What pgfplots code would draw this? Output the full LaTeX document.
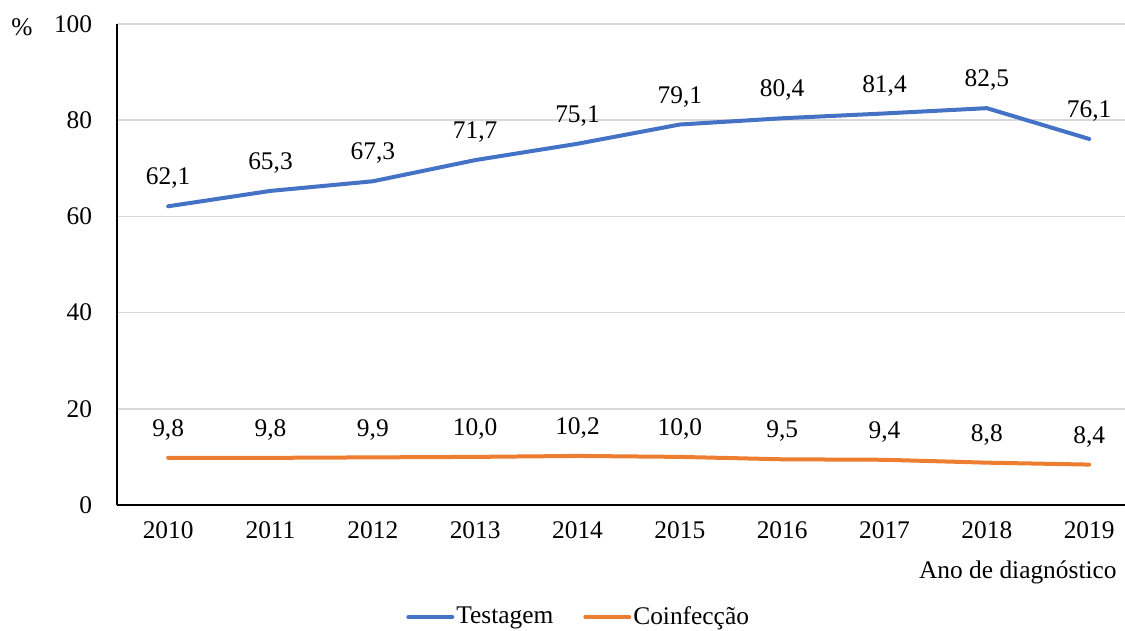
\documentclass[border=0pt]{standalone}
\usepackage{fontspec}
\setmainfont{Liberation Serif}
\usepackage{pgfplots}
\usepackage{pgfplotstable}
\pgfplotsset{compat=1.18}
\definecolor{cblue}{HTML}{4472C4}
\definecolor{corange}{HTML}{ED7D31}
\definecolor{cgrid}{HTML}{D9D9D9}

\pgfplotstableread{
x y lab
0 62.1 62,1
1 65.3 65,3
2 67.3 67,3
3 71.7 71,7
4 75.1 75,1
5 79.1 79,1
6 80.4 80,4
7 81.4 81,4
8 82.5 82,5
9 76.1 76,1
}\testagem

\pgfplotstableread{
x y lab
0 9.8 9,8
1 9.8 9,8
2 9.9 9,9
3 10.0 10,0
4 10.2 10,2
5 10.0 10,0
6 9.5 9,5
7 9.4 9,4
8 8.8 8,8
9 8.4 8,4
}\coinfeccao

\begin{document}
\fontsize{12.7}{15}\selectfont
\begin{tikzpicture}[x=1pt,y=1pt]
\useasboundingbox (0,0) rectangle (562.5,315.5);
\begin{axis}[
  at={(58.5pt,63pt)}, anchor=south west,
  scale only axis, width=504pt, height=240.5pt,
  xmin=-0.5, xmax=9.35, ymin=0, ymax=100,
  xtick={0,...,9},
  xticklabels={2010,2011,2012,2013,2014,2015,2016,2017,2018,2019},
  ytick={0,20,40,60,80,100},
  axis x line*=bottom, axis y line*=left,
  axis line style={-, black, line width=0.8pt},
  major tick length=0pt,
  ymajorgrids, grid style={cgrid, line width=0.8pt},
  /pgf/number format/assume math mode=true,
  tick label style={font=\fontsize{12.7}{15}\selectfont},
  xticklabel style={yshift=-4pt},
  yticklabel style={xshift=-8pt},
  clip=false,
  legend columns=2,
  legend style={at={(0.458,-0.233)}, anchor=center, draw=none, fill=none,
    font=\fontsize{12.7}{15}\selectfont,
    /tikz/every even column/.append style={column sep=14pt},
    nodes={inner xsep=1pt}},
  legend image code/.code={\draw[#1, line width=2pt] (0pt,0pt) -- (22pt,0pt);},
  nodes near coords,
  point meta=explicit symbolic,
  nodes near coords style={anchor=south, yshift=3.5pt, black, font=\fontsize{12.7}{15}\selectfont},
]
\addplot[cblue, line width=2pt, line cap=round, line join=round] table[x=x, y=y, meta=lab] {\testagem};
\addlegendentry{Testagem}
\addplot[corange, line width=2pt, line cap=round, line join=round] table[x=x, y=y, meta=lab] {\coinfeccao};
\addlegendentry{Coinfecção}
\end{axis}
\node at (11pt,302pt) {\%};
\node[anchor=east, inner sep=0pt] at (558.5pt,29.5pt) {Ano de diagnóstico};
\end{tikzpicture}
\end{document}
